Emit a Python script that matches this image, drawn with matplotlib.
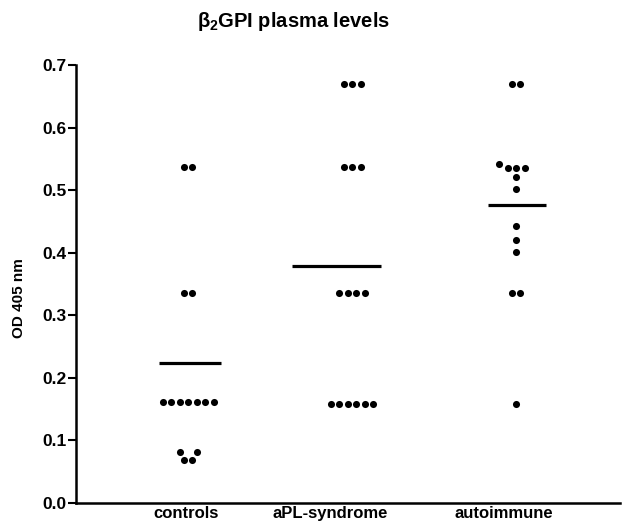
import numpy as np
import matplotlib
matplotlib.use("Agg")
import matplotlib.pyplot as plt

# ---------------- data ----------------
categories = ["controls", "aPL-syndrome", "autoimmune"]
controls = [0.537, 0.537, 0.335, 0.335,
            0.162, 0.162, 0.162, 0.162, 0.162, 0.162, 0.162,
            0.0816, 0.0816, 0.0684, 0.0684]
apl_syndrome = [0.669, 0.669, 0.669, 0.537, 0.537, 0.537,
                0.335, 0.335, 0.335, 0.335,
                0.159, 0.159, 0.159, 0.159, 0.159, 0.159]
autoimmune = [0.669, 0.669, 0.542, 0.535, 0.535, 0.535, 0.521, 0.502,
              0.442, 0.421, 0.401, 0.335, 0.335, 0.159]
group_means = [0.223, 0.379, 0.477]
y_ticks = [0.0, 0.1, 0.2, 0.3, 0.4, 0.5, 0.6, 0.7]
title_text = r"$\beta_{2}$GPI plasma levels"
y_label = "OD 405 nm"

# ---------------- layout / style ----------------
plt.rcParams["font.family"] = ["Liberation Sans", "DejaVu Sans"]
plt.rcParams["mathtext.fontset"] = "custom"
plt.rcParams["mathtext.rm"] = "Liberation Sans:bold"
plt.rcParams["mathtext.it"] = "Liberation Sans:bold"
plt.rcParams["mathtext.bf"] = "Liberation Sans:bold"

W, H = 623, 524
fig = plt.figure(figsize=(W / 100, H / 100), dpi=100)
ax_left_px, ax_right_px = 76, 620
ax_bottom_px, ax_top_px = 503, 65
ax = fig.add_axes([ax_left_px / W, (H - ax_bottom_px) / H,
                   (ax_right_px - ax_left_px) / W,
                   (ax_bottom_px - ax_top_px) / H])

px_per_cat = 164.0
xlim = ((ax_left_px - 188) / px_per_cat + 1, (ax_right_px - 188) / px_per_cat + 1)
ax.set_xlim(*xlim)
ax.set_ylim(0, 0.7)

group_centers = [1.0, 2.0, 3.0]
label_offsets = [-0.012, -0.134, -0.073]
mean_centers = [1.012, 1.905, 3.005]
mean_halfwidths = [0.19, 0.27, 0.178]


def swarm(values, center, step_px=8.5, coll_px=8.5):
    T = ax.transData
    vals = np.asarray(values, dtype=float)
    uniq, counts = np.unique(vals, return_counts=True)
    order = sorted(range(len(uniq)), key=lambda i: (-counts[i], uniq[i]))
    placed = []
    cx_px = T.transform((center, 0))[0]
    out = []
    for i in order:
        v, n = uniq[i], counts[i]
        y_px = T.transform((center, v))[1]
        base = (np.arange(n) - (n - 1) / 2) * step_px
        k = 0
        chosen = None
        while chosen is None:
            if k == 0:
                cands = [base]
            else:
                sh = k * step_px / 2
                if n % 2 == 1:
                    cands = [base - sh, base + sh]
                else:
                    cands = [np.where(base < 0, base - sh, base + sh)]
            for c in cands:
                ok = True
                for (px, py) in placed:
                    d = np.hypot(c + cx_px - px, y_px - py)
                    if np.any(d < coll_px - 1e-6):
                        ok = False
                        break
                if ok:
                    chosen = c
                    break
            k += 1
        for c in chosen:
            placed.append((cx_px + c, y_px))
            out.append(T.inverted().transform((cx_px + c, y_px)))
    return np.array(out)


groups = [controls, apl_syndrome, autoimmune]
for g, c, m, mc, hw in zip(groups, group_centers, group_means,
                           mean_centers, mean_halfwidths):
    pts = swarm(g, c)
    ax.scatter(pts[:, 0], pts[:, 1], s=26, color="black", linewidths=0,
               zorder=3, clip_on=False)
    ax.plot([mc - hw, mc + hw], [m, m], color="black", lw=2.3,
            solid_capstyle="butt", zorder=2)

for sp in ["top", "right"]:
    ax.spines[sp].set_visible(False)
ax.spines["left"].set_linewidth(1.8)
ax.spines["bottom"].set_linewidth(1.8)
ax.set_yticks(y_ticks)
ax.set_yticklabels([f"{t:.1f}" for t in y_ticks], fontsize=12.5,
                   fontweight="bold")
ax.tick_params(axis="y", length=6, width=1.5, pad=1, direction="out")
ax.set_xticks([c + o for c, o in zip(group_centers, label_offsets)])
ax.set_xticklabels(categories, fontsize=12, fontweight="bold")
ax.tick_params(axis="x", length=0, pad=2)

fig.text(294 / W, 1 - 27 / H, title_text, ha="center", va="baseline",
         fontsize=14.5, fontweight="bold")
fig.text(19 / W, 1 - 298 / H, y_label, ha="center", va="center",
         rotation=90, fontsize=11, fontweight="bold")

fig.savefig("out.png", dpi=100)
